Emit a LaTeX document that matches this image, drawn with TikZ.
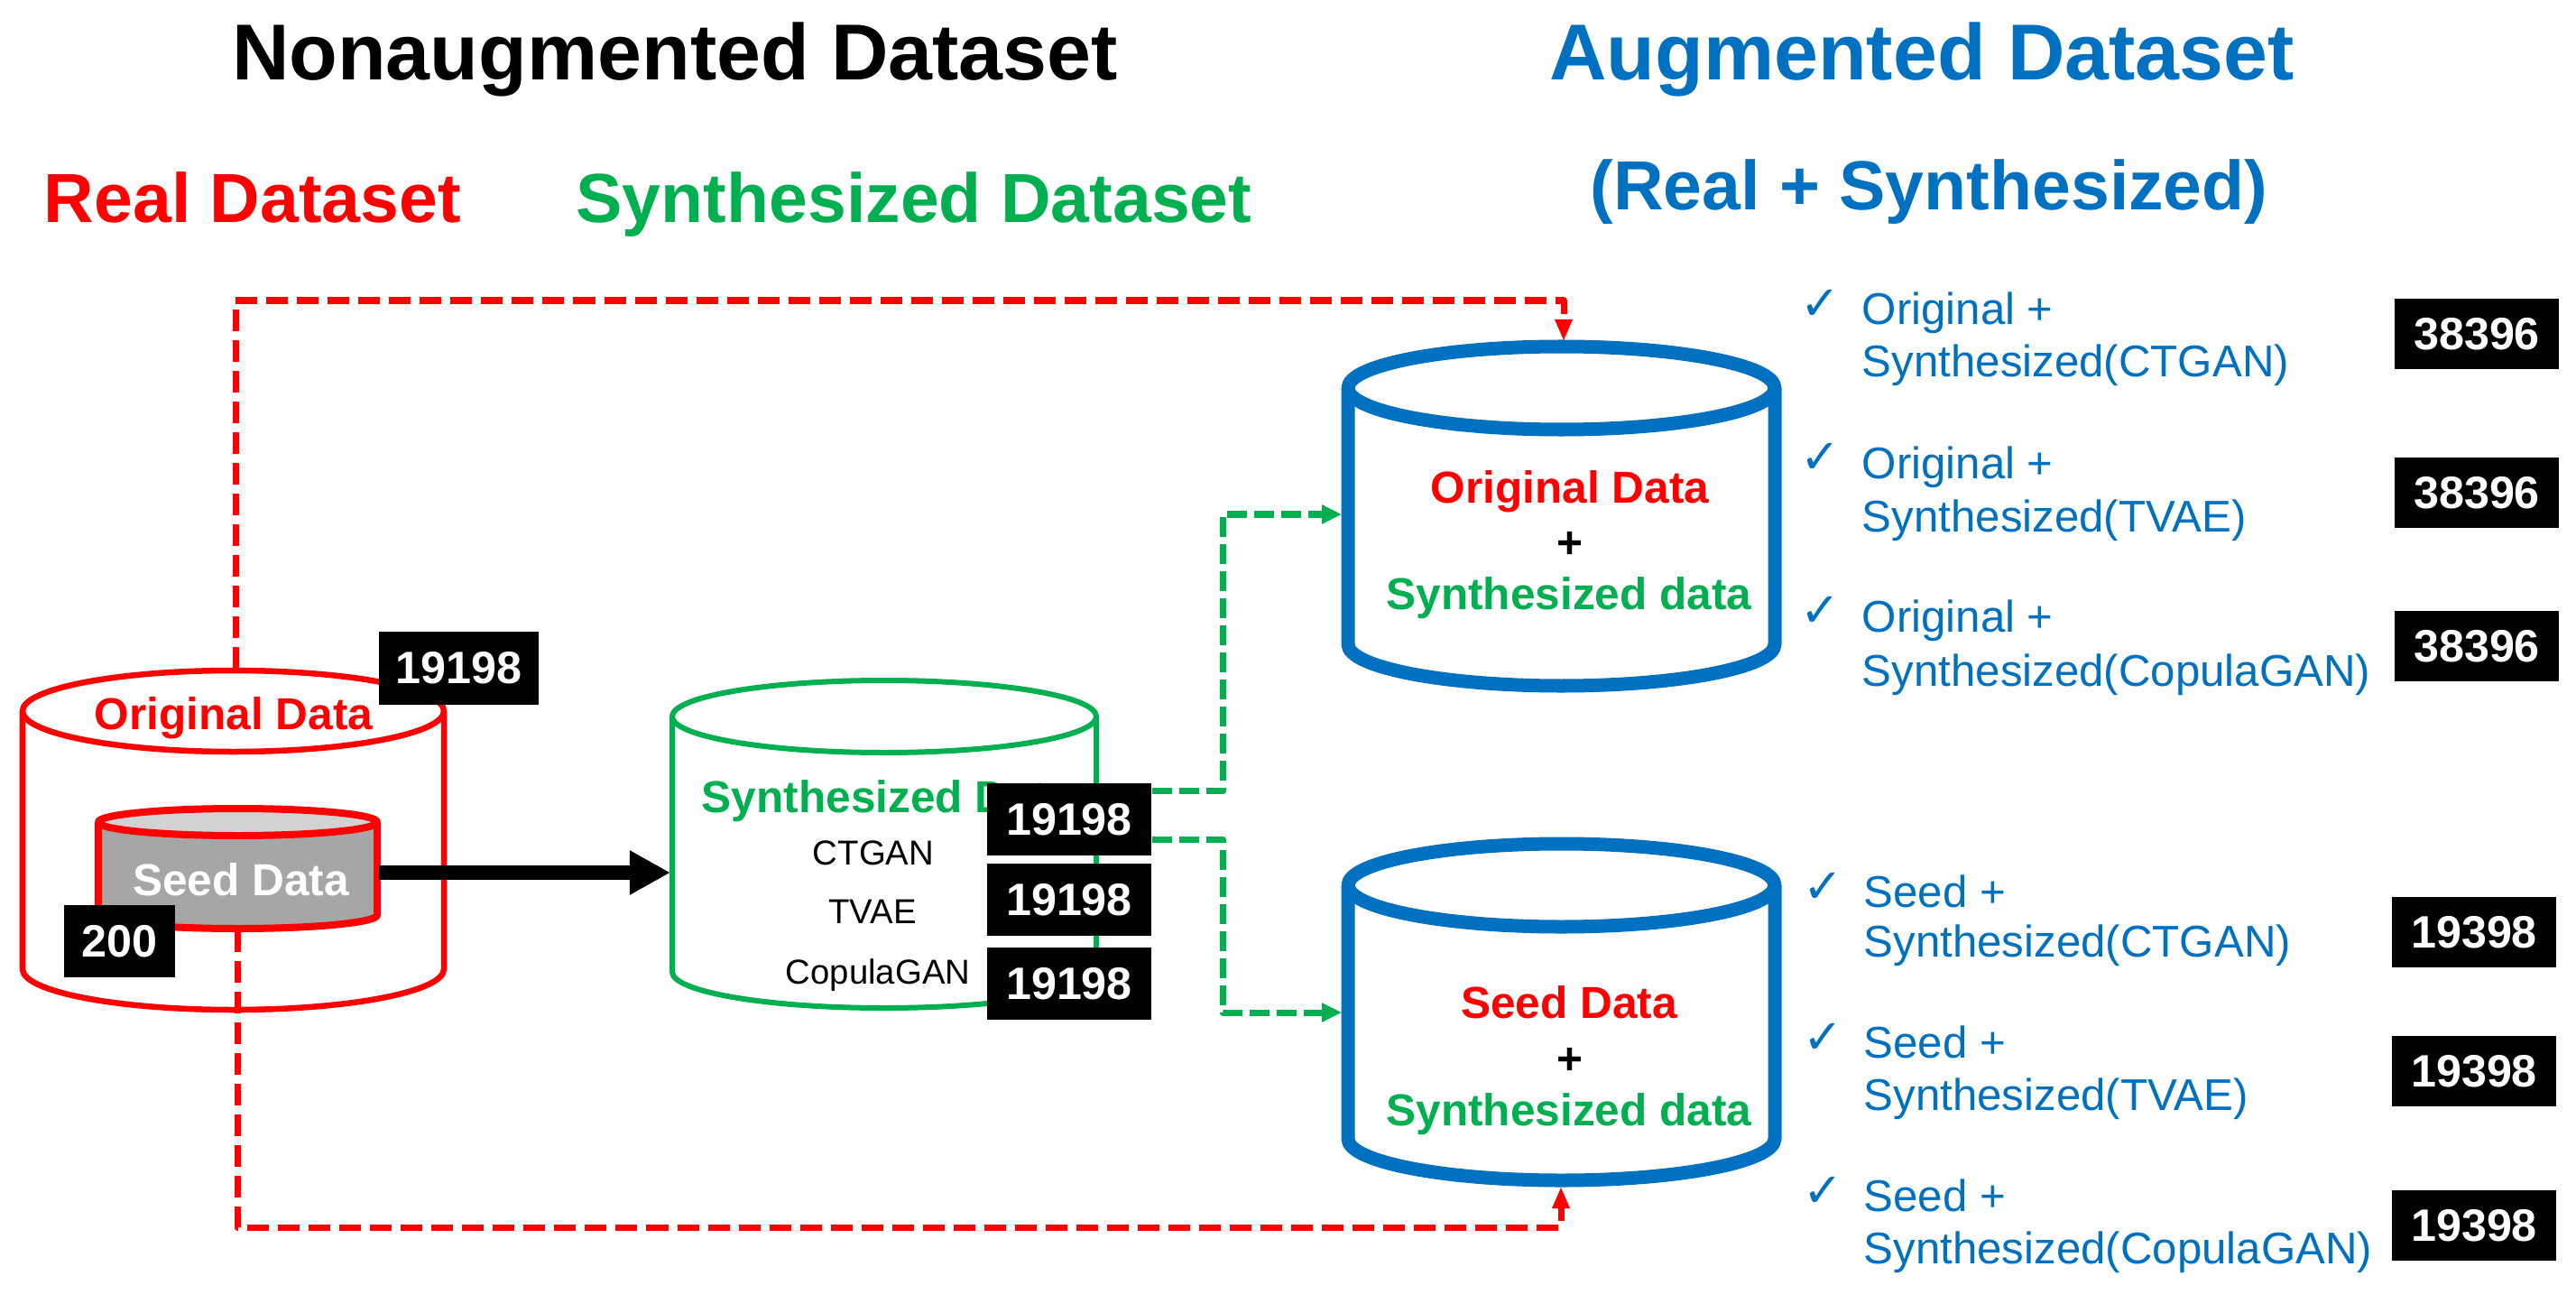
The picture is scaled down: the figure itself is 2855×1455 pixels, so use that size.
\documentclass[tikz,border=0pt]{standalone}
\usepackage{fontspec}
\setmainfont{Liberation Sans}
\newfontfamily\dejavu{DejaVu Sans}
\usetikzlibrary{arrows.meta,calc}
\definecolor{cred}{RGB}{255,0,0}
\definecolor{cgreen}{RGB}{0,176,80}
\definecolor{cblue}{RGB}{0,112,192}
\definecolor{seedgray}{RGB}{166,166,166}
\definecolor{seedtop}{RGB}{210,210,210}
\newcommand\cylshape[8]{%
  \fill[#8] (#2-#5,#3) -- (#2-#5,#4) arc[start angle=180,end angle=0,x radius=#5,y radius=#6] -- (#2+#5,#3) -- cycle;
  \draw[#1] (#2-#5,#3) -- (#2-#5,#4) arc[start angle=180,end angle=0,x radius=#5,y radius=#6] -- (#2+#5,#3);
  \filldraw[#1,fill=#7] (#2,#3) ellipse[x radius=#5,y radius=#6];
}
\tikzset{
  titletxt/.style={anchor=base, inner sep=0, font=\bfseries\fontsize{25pt}{30pt}\selectfont},
  subtxt/.style={anchor=base, inner sep=0, font=\bfseries\fontsize{21.9pt}{26pt}\selectfont},
  lbl/.style={anchor=base, inner sep=0, font=\bfseries\fontsize{14.1pt}{17pt}\selectfont},
  modeltxt/.style={anchor=base, inner sep=0, font=\fontsize{10.9pt}{13pt}\selectfont},
  numbox/.style={fill=black, text=white, inner sep=0, minimum width=1.8cm, minimum height=0.8cm, font=\bfseries\fontsize{14.3pt}{16pt}\selectfont},
  listtxt/.style={anchor=base west, inner sep=0, text=cblue, font=\fontsize{14pt}{17pt}\selectfont},
  chk/.style={inner sep=0, text=cblue, font=\dejavu\fontsize{15pt}{18pt}\selectfont},
  reddash/.style={draw=cred, line width=0.07cm, dash pattern=on 0.24cm off 0.10cm, -{Triangle[length=0.24cm,width=0.18cm]}},
  greendash/.style={draw=cgreen, line width=0.07cm, dash pattern=on 0.22cm off 0.08cm, -{Triangle[length=0.22cm,width=0.2cm]}},
  bigarrow/.style={draw=black, line width=0.16cm, -{Triangle[length=0.45cm,width=0.46cm]}},
  redcyl/.style={draw=cred, line width=0.065cm},
  seedcyl/.style={draw=cred, line width=0.08cm},
  greencyl/.style={draw=cgreen, line width=0.06cm},
  bluecyl/.style={draw=cblue, line width=0.15cm},
}
\begin{document}
\begin{tikzpicture}[x=0.01cm, y=-0.01cm, line join=round]
\useasboundingbox (0,0) rectangle (2855,1455);
\fill[white] (0,0) rectangle (2855,1455);

% cylinders
\cylshape{redcyl}{258.5}{788}{1074}{233.5}{45}{white}{white}
\cylshape{seedcyl}{263.5}{911}{1014}{154.5}{15}{seedtop}{seedgray}
\cylshape{greencyl}{980}{794}{1077}{235}{40}{white}{white}
\cylshape{bluecyl}{1730.5}{430}{714}{236.5}{46}{white}{white}
\cylshape{bluecyl}{1730.5}{981}{1262}{236.5}{46}{white}{white}

% connection points
\coordinate (origT) at (261,741);
\coordinate (seedB) at (263,1031);
\coordinate (seedE) at (420,967);
\coordinate (synW) at (743,967);
\coordinate (aug1T) at (1733,378);
\coordinate (aug1W) at (1487,570);
\coordinate (aug2W) at (1487,1122);
\coordinate (aug2B) at (1730,1315);
\coordinate (railT) at (0,333);
\coordinate (railB) at (0,1360);
\coordinate (gx) at (1355,0);

% labels inside cylinders
\node[lbl, text=cred] (lorig) at (259,808) {Original Data};
\node[lbl, text=white] (lseed) at (267,992) {Seed Data};
\node[lbl, text=cgreen] (lsyn) at (983,900) {Synthesized Data};
\node[modeltxt] (mct) at (968,958) {CTGAN};
\node[modeltxt] (mtv) at (967,1023) {TVAE};
\node[modeltxt] (mcp) at (973,1090) {CopulaGAN};

\node[lbl, text=cred] (a1o) at (1740,557) {Original Data};
\node[lbl] (a1p) at (1740,618) {+};
\node[lbl, text=cgreen] (a1s) at (1739,675) {Synthesized data};
\node[lbl, text=cred] (a2o) at (1739,1128) {Seed Data};
\node[lbl] (a2p) at (1740,1190) {+};
\node[lbl, text=cgreen] (a2s) at (1739,1247) {Synthesized data};

% number boxes (left part)
\node[numbox, minimum width=1.77cm, minimum height=0.81cm] (n1) at (508.5,740.5) {19198};
\node[numbox, minimum width=1.23cm] (n200) at (132.5,1043) {200};
\node[numbox, minimum width=1.82cm] (g1) at (1185,908) {19198};
\node[numbox, minimum width=1.82cm] (g2) at (1185,997) {19198};
\node[numbox, minimum width=1.82cm] (g3) at (1185,1090) {19198};

% connectors
\draw[reddash] (origT) |- (aug1T |- railT) -- (aug1T);
\draw[reddash] (seedB) |- (aug2B |- railB) -- (aug2B);
\draw[greendash] ([yshift=0.31cm]g1.east) -| (gx |- aug1W) -- (aug1W);
\draw[greendash] ([yshift=-0.22cm]g1.east) -| (gx |- aug2W) -- (aug2W);
\draw[bigarrow] (seedE) -- (synW);

% titles
\node[titletxt] (t1) at (748,89) {Nonaugmented Dataset};
\node[titletxt, text=cblue] (t2) at (2130,89) {Augmented Dataset};
\node[subtxt, text=cblue] (t3) at (2138,233) {(Real + Synthesized)};
\node[subtxt, text=cred] (t4) at (280,247) {Real Dataset};
\node[subtxt, text=cgreen] (t5) at (1013,247) {Synthesized Dataset};

% list: original + synthesized
\node[chk] (c1) at (2018,338) {✓};
\node[listtxt] (e1a) at (2063,360) {Original +};
\node[listtxt] (e1b) at (2063,418) {Synthesized(CTGAN)};
\node[chk] (c2) at (2018,508) {✓};
\node[listtxt] (e2a) at (2063,530) {Original +};
\node[listtxt] (e2b) at (2063,589) {Synthesized(TVAE)};
\node[chk] (c3) at (2018,678) {✓};
\node[listtxt] (e3a) at (2063,700) {Original +};
\node[listtxt] (e3b) at (2063,760) {Synthesized(CopulaGAN)};

% list: seed + synthesized
\node[chk] (c4) at (2021,984) {✓};
\node[listtxt] (e4a) at (2065,1005) {Seed +};
\node[listtxt] (e4b) at (2065,1060) {Synthesized(CTGAN)};
\node[chk] (c5) at (2021,1151) {✓};
\node[listtxt] (e5a) at (2065,1172) {Seed +};
\node[listtxt] (e5b) at (2065,1230) {Synthesized(TVAE)};
\node[chk] (c6) at (2021,1321) {✓};
\node[listtxt] (e6a) at (2065,1342) {Seed +};
\node[listtxt] (e6b) at (2065,1400) {Synthesized(CopulaGAN)};

% right number boxes
\node[numbox, minimum width=1.82cm, minimum height=0.77cm] (r1) at (2745,370) {38396};
\node[numbox, minimum width=1.82cm, minimum height=0.77cm] (r2) at (2745,546) {38396};
\node[numbox, minimum width=1.82cm, minimum height=0.77cm] (r3) at (2745,716) {38396};
\node[numbox, minimum width=1.82cm, minimum height=0.77cm] (s1) at (2742,1033) {19398};
\node[numbox, minimum width=1.82cm, minimum height=0.77cm] (s2) at (2742,1187) {19398};
\node[numbox, minimum width=1.82cm, minimum height=0.77cm] (s3) at (2742,1358) {19398};
\end{tikzpicture}
\end{document}
